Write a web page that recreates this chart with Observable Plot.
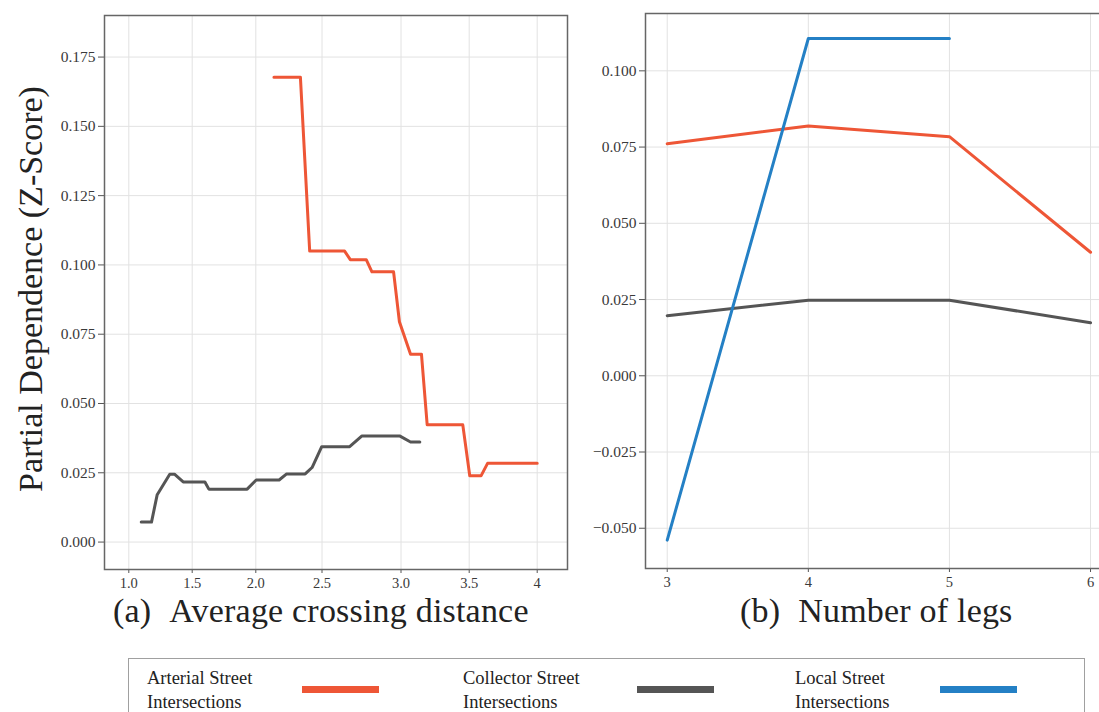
<!DOCTYPE html>
<html><head><meta charset="utf-8">
<script src="https://cdn.jsdelivr.net/npm/d3@7"></script>
<script src="https://cdn.jsdelivr.net/npm/@observablehq/plot@0.6"></script>
<style>
html,body{margin:0;padding:0;overflow:hidden;background:#fff;width:1099px;height:712px}
#root{position:relative;width:1099px;height:712px;font-family:"Liberation Serif",serif;color:#222}
.abs{position:absolute;white-space:nowrap}
.legtxt{font-size:18.5px;line-height:24px;color:#222}
svg text{font-family:"Liberation Serif",serif !important;fill:#3a3a3a}
</style></head><body><div id="root"></div>
<script>
// ---------- data ----------
const seriesNames = ["Arterial Street Intersections", "Collector Street Intersections", "Local Street Intersections"];
const seriesColors = ["#EE5636", "#555555", "#2480C5"];

// (a) Average crossing distance
const distArterialX = [2.137, 2.337, 2.407, 2.643, 2.679, 2.780, 2.816, 2.953, 2.990, 3.070, 3.150, 3.192, 3.453, 3.504, 3.587, 3.635, 4.0];
const distArterialY = [0.1677, 0.1677, 0.105, 0.105, 0.1019, 0.1019, 0.0975, 0.0975, 0.0795, 0.0678, 0.0678, 0.0423, 0.0423, 0.0239, 0.0239, 0.0284, 0.0284];
const distCollectorX = [1.098, 1.179, 1.224, 1.323, 1.360, 1.429, 1.600, 1.631, 1.932, 2.003, 2.176, 2.233, 2.373, 2.425, 2.498, 2.675, 2.753, 2.991, 3.070, 3.138];
const distCollectorY = [0.0072, 0.0072, 0.0171, 0.0245, 0.0245, 0.0217, 0.0217, 0.0191, 0.0191, 0.0224, 0.0224, 0.0246, 0.0246, 0.0269, 0.0344, 0.0344, 0.0383, 0.0383, 0.0361, 0.0361];
const distTicks = [1.0, 1.5, 2.0, 2.5, 3.0, 3.5, 4.0];
const distTickLabels = ["1.0", "1.5", "2.0", "2.5", "3.0", "3.5", "4"];
const distYTicks = [0, 0.025, 0.05, 0.075, 0.1, 0.125, 0.15, 0.175];

// (b) Number of legs
const legs = [3, 4, 5, 6];
const legsArterial = [0.0761, 0.0819, 0.0784, 0.0405];
const legsCollector = [0.0197, 0.0248, 0.0248, 0.0174];
const legsLocalX = [3, 4, 5];
const legsLocal = [-0.0539, 0.1106, 0.1106];
const legsYTicks = [-0.05, -0.025, 0, 0.025, 0.05, 0.075, 0.1];

const panelTitles = [["(a)", "Average crossing distance"], ["(b)", "Number of legs"]];
const yTitle = "Partial Dependence (Z-Score)";

// ---------- build tables ----------
const distData = [
  ...distArterialX.map((x, i) => ({x, y: distArterialY[i], s: seriesNames[0]})),
  ...distCollectorX.map((x, i) => ({x, y: distCollectorY[i], s: seriesNames[1]}))
];
const legsData = [
  ...legs.map((x, i) => ({x, y: legsArterial[i], s: seriesNames[0]})),
  ...legs.map((x, i) => ({x, y: legsCollector[i], s: seriesNames[1]})),
  ...legsLocalX.map((x, i) => ({x, y: legsLocal[i], s: seriesNames[2]}))
];

const root = document.getElementById("root");
const fmt3 = d3.format(".3f");
const baseStyle = {fontFamily: "'Liberation Serif', serif", fontSize: "15px", color: "#3a3a3a", background: "transparent", overflow: "visible"};
const color = {domain: seriesNames, range: seriesColors};

// Panel (a): piecewise position scale to follow the reference's uneven tick spacing
const plotA = Plot.plot({
  width: 580, height: 600,
  marginLeft: 104, marginRight: 13, marginTop: 15, marginBottom: 31,
  style: baseStyle,
  x: {type: "linear", domain: [0.808, 1, 1.5, 2, 2.5, 3, 3.5, 4, 4.223], range: [104, 128.3, 191.7, 255.3, 321.5, 400.5, 468.7, 536.7, 567]},
  y: {domain: [-0.0099, 0.19]},
  color,
  marks: [
    Plot.ruleX(distTicks, {stroke: "#e2e2e2", strokeWidth: 1}),
    Plot.ruleY(distYTicks, {stroke: "#e2e2e2", strokeWidth: 1}),
    Plot.axisX(distTicks, {tickSize: 4, tickPadding: 4, label: null, stroke: "#555", tickFormat: (d, i) => distTickLabels[i], fontSize: 14.5}),
    Plot.axisY(distYTicks, {tickSize: 6, tickPadding: 3, label: null, stroke: "#555", tickFormat: fmt3, fontSize: 15.5}),
    Plot.line(distData, {x: "x", y: "y", z: "s", stroke: "s", strokeWidth: 3, strokeLinejoin: "round"}),
    Plot.frame({stroke: "#666", strokeWidth: 1.5})
  ]
});
plotA.style.position = "absolute"; plotA.style.left = "0px"; plotA.style.top = "0px";
root.appendChild(plotA);

// Panel (b)
const plotB = Plot.plot({
  width: 560, height: 600,
  marginLeft: 85, marginRight: 16, marginTop: 13, marginBottom: 32,
  style: baseStyle,
  x: {domain: [2.846, 6.099]},
  y: {domain: [-0.0632, 0.1188]},
  color,
  marks: [
    Plot.ruleX(legs, {stroke: "#e2e2e2", strokeWidth: 1}),
    Plot.ruleY(legsYTicks, {stroke: "#e2e2e2", strokeWidth: 1}),
    Plot.axisX(legs, {tickSize: 4, tickPadding: 4, label: null, stroke: "#555", tickFormat: d3.format("d"), fontSize: 14.5}),
    Plot.axisY(legsYTicks, {tickSize: 6, tickPadding: 3, label: null, stroke: "#555", tickFormat: fmt3, fontSize: 15.5}),
    Plot.line(legsData, {x: "x", y: "y", z: "s", stroke: "s", strokeWidth: 3, strokeLinejoin: "round"}),
    Plot.frame({stroke: "#666", strokeWidth: 1.5})
  ]
});
plotB.style.position = "absolute"; plotB.style.left = "560px"; plotB.style.top = "0px";
root.appendChild(plotB);

// Axis titles
const yt = document.createElement("div");
yt.className = "abs";
yt.textContent = yTitle;
Object.assign(yt.style, {left: "31px", top: "289px", fontSize: "34px", transform: "translate(-50%,-50%) rotate(-90deg)", color: "#222"});
root.appendChild(yt);

const titlePos = [{left: 113, top: 592}, {left: 740, top: 592}];
panelTitles.forEach(([a, b], i) => {
  const d = document.createElement("div");
  d.className = "abs";
  Object.assign(d.style, {left: titlePos[i].left + "px", top: titlePos[i].top + "px", fontSize: "34px", color: "#222", letterSpacing: "0.2px"});
  d.innerHTML = `<span>${a}</span><span style="margin-left:18px">${b}</span>`;
  root.appendChild(d);
});

// Legend
const leg = document.createElement("div");
leg.className = "abs";
Object.assign(leg.style, {left: "128px", top: "658px", width: "957px", height: "80px", border: "1px solid #a0a0a0", boxSizing: "border-box"});
root.appendChild(leg);
const legTextX = [147, 463, 795];
const legSwX = [302, 637, 940];
seriesNames.forEach((name, i) => {
  const words = name.split(" ");
  const t = document.createElement("div");
  t.className = "abs legtxt";
  Object.assign(t.style, {left: legTextX[i] + "px", top: "666px"});
  t.innerHTML = words.slice(0, 2).join(" ") + "<br>" + words.slice(2).join(" ");
  root.appendChild(t);
  const sw = document.createElement("div");
  sw.className = "abs";
  Object.assign(sw.style, {left: legSwX[i] + "px", top: "686px", width: "77px", height: "7px", background: seriesColors[i]});
  root.appendChild(sw);
});
</script>
</body></html>
